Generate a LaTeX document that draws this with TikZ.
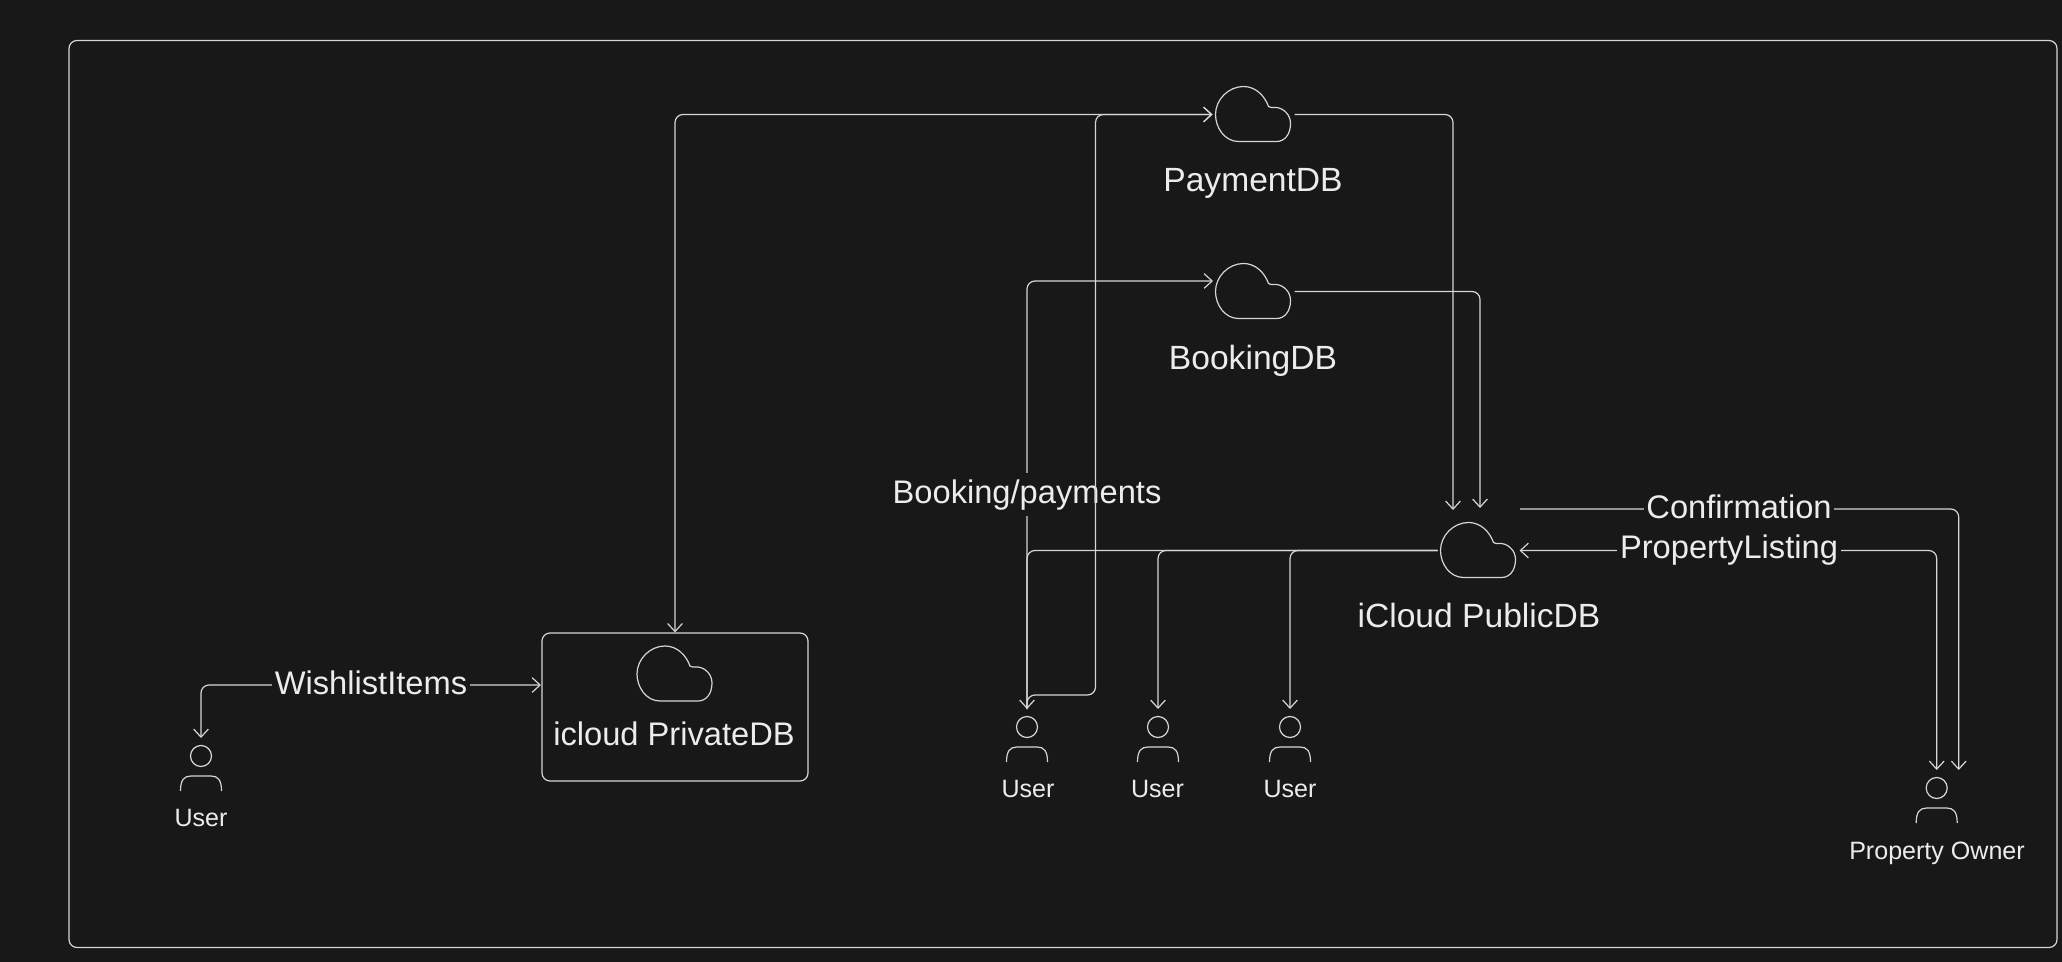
\documentclass[tikz,border=0pt]{standalone}
\usepackage{fontspec}
\setmainfont{Liberation Sans}
\usetikzlibrary{arrows.meta}

\definecolor{bgcol}{HTML}{181818}
\definecolor{linecol}{HTML}{D6D6D6}
\definecolor{txtcol}{HTML}{ECECEC}

\tikzset{
    iconbox/.style={inner sep=0pt, outer sep=0pt},
    iconline/.style={draw=linecol, line width=0.9pt},
    cloudicon/.pic={
        \node[iconbox, minimum width=61.5pt, minimum height=41.25pt] (-box) at (0,0) {};
        \draw[iconline] (-15,27) .. controls (-29,27) and (-38,13) .. (-38,0)
            .. controls (-38,-15) and (-25,-28) .. (-10,-28)
            .. controls (2,-28) and (11,-19) .. (15,-8)
            .. controls (16,-6.5) and (19,-7) .. (23,-7)
            .. controls (31,-6) and (37,1) .. (37,9)
            .. controls (37,20) and (31,27) .. (23,27) -- cycle;
    },
    personicon/.pic={
        \node[iconbox, minimum width=33pt, minimum height=39.75pt] (-box) at (0,8.5) {};
        \draw[iconline] (0,0) circle[radius=10.5];
        \draw[iconline] (-20.5,35) .. controls (-20.5,24) and (-17,20) .. (-10,20) -- (10,20)
            .. controls (17,20) and (20.5,24) .. (20.5,35);
    },
    conn/.style={draw=linecol, line width=0.9pt, rounded corners=6pt, arrows={-Straight Barb[length=6pt,width=11pt]}},
    bothconn/.style={conn, arrows={Straight Barb[length=6pt,width=11pt]-Straight Barb[length=6pt,width=11pt]}},
    plainconn/.style={draw=linecol, line width=0.9pt},
    dblbl/.style={text=txtcol, anchor=base, inner sep=0pt, font=\fontsize{24.5}{29}\selectfont},
    cloudlbl/.style={dblbl, font=\fontsize{25.2}{30}\selectfont},
    flowlbl/.style={dblbl, fill=bgcol, inner xsep=2pt, inner ysep=5pt},
    personlbl/.style={text=txtcol, anchor=base, inner sep=0pt, font=\fontsize{18.8}{23}\selectfont},
}

\begin{document}
\begin{tikzpicture}[x=0.75pt, y=-0.75pt]
    \useasboundingbox (0,0) rectangle (2062,962);
    \fill[bgcol] (0,0) rectangle (2062,962);
    \draw[plainconn, rounded corners=6pt] (69,40.5) rectangle (2057,947.5);

    \pic (pay) at (1253.5,114.5) {cloudicon};
    \pic (book) at (1253.5,291.5) {cloudicon};
    \pic (pub) at (1478.5,550.5) {cloudicon};
    \pic (priv) at (675,674) {cloudicon};

    \pic (usr0) at (201,756) {personicon};
    \pic (usr1) at (1027,727) {personicon};
    \pic (usr2) at (1158,727) {personicon};
    \pic (usr3) at (1290,727) {personicon};
    \pic (owner) at (1936.7,788) {personicon};

    \node[draw=linecol, line width=0.9pt, rounded corners=6pt, minimum width=199.5pt, minimum height=111pt] (privbox) at (675,707) {};

    \coordinate (privin) at (541,685);
    \coordinate (bookin) at (1213,281);
    \coordinate (jog) at (1095.5,695);
    \coordinate (pubtopa) at (1453,510);
    \coordinate (pubtopb) at (1480,508);
    \coordinate (pubout) at (1520,509);

    % database links
    \draw[bothconn] (privbox.north) |- (pay-box.west);
    \draw[conn] (usr1-box.north) |- (bookin);
    \draw[conn] (pay-box.east) -| (pubtopa);
    \draw[conn] (book-box.east) -| (pubtopb);

    % public db to users
    \draw[conn] (pub-box.west) -| (usr1-box.north);
    \draw[conn] (pub-box.west) -| (usr2-box.north);
    \draw[conn] (pub-box.west) -| (usr3-box.north);

    % owner links
    \draw[conn] (pubout) -| (owner-box.north east);
    \draw[bothconn] (pub-box.east) -| (owner-box.north);
    \draw[bothconn] (usr0-box.north) |- (privin);

    \node[flowlbl] (wishlbl) at (371,694) {WishlistItems};
    \node[flowlbl] (conflbl) at (1739,518) {Confirmation};
    \node[flowlbl] (proplbl) at (1729,558) {PropertyListing};
    \node[flowlbl] (bplbl) at (1027,503) {Booking/payments};

    \draw[conn] (usr1-box.north) |- (jog) |- (pay-box.west);

    \node[cloudlbl] (paylbl) at (1253,191.5) {PaymentDB};
    \node[cloudlbl] (booklbl) at (1253,369) {BookingDB};
    \node[cloudlbl] (publbl) at (1479,627.5) {iCloud PublicDB};
    \node[dblbl] (privlbl) at (674,745) {icloud PrivateDB};

    \node[personlbl] (usr0lbl) at (201,826.5) {User};
    \node[personlbl] (usr1lbl) at (1028,797.5) {User};
    \node[personlbl] (usr2lbl) at (1157.5,797.5) {User};
    \node[personlbl] (usr3lbl) at (1290,797.5) {User};
    \node[personlbl] (ownerlbl) at (1937,859.5) {Property Owner};
\end{tikzpicture}
\end{document}
